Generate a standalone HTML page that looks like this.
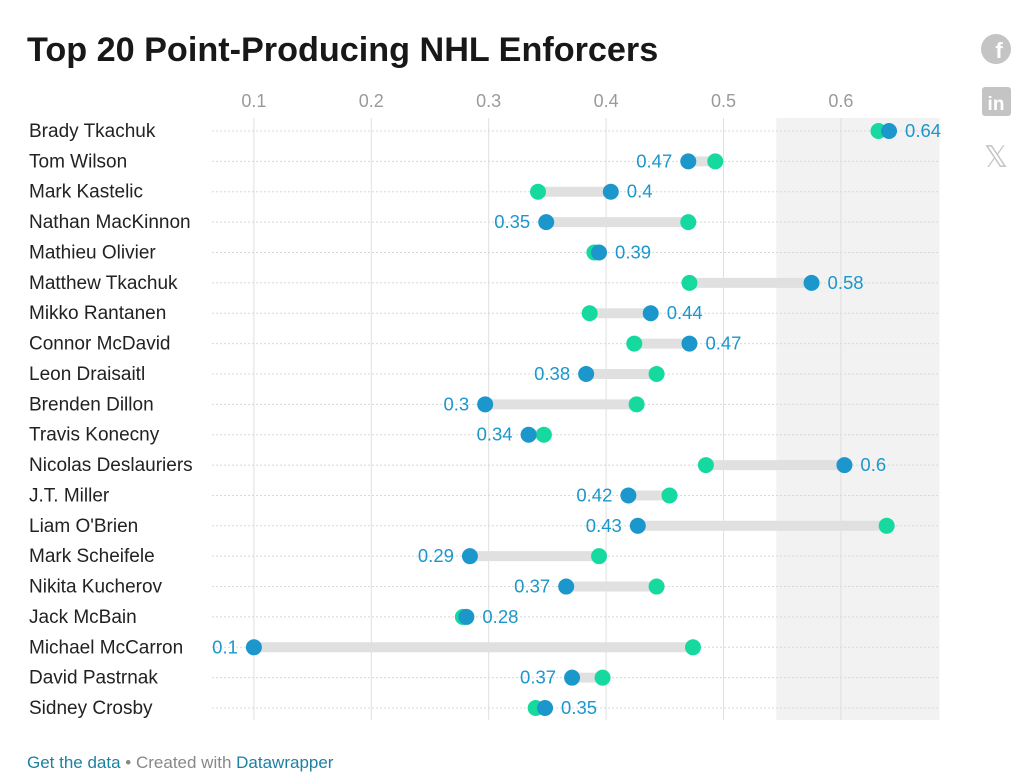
<!DOCTYPE html>
<html><head><meta charset="utf-8"><style>
body{margin:0;background:#fff;font-family:"Liberation Sans",sans-serif;}
#wrap{position:relative;width:1028px;height:782px;overflow:hidden;}
h1{position:absolute;left:27px;top:31px;margin:0;font-size:34.2px;font-weight:bold;color:#181818;letter-spacing:0px}
.foot{position:absolute;left:27px;top:753px;font-size:17px;color:#888}
.foot a{color:#1d81a2;text-decoration:none}
</style></head><body><div id="wrap">
<h1>Top 20 Point-Producing NHL Enforcers</h1>
<svg id="chart" width="1028" height="782" style="position:absolute;left:0;top:0">
<g><circle cx="996" cy="49" r="15" fill="#c4c4c4"/><text x="999" y="58" font-size="22" font-weight="bold" fill="#fff" text-anchor="middle">f</text></g>
<g><rect x="982" y="87" width="29" height="29" rx="3" fill="#c4c4c4"/><text x="996" y="110" font-size="19" font-weight="bold" fill="#fff" text-anchor="middle">in</text></g>
<text x="996" y="167" font-size="30" fill="#c4c4c4" text-anchor="middle">𝕏</text>
</svg>
<div class="foot"><a href="#">Get the data</a> • Created with <a href="#">Datawrapper</a></div>
</div>
<script>
const names=["Brady Tkachuk","Tom Wilson","Mark Kastelic","Nathan MacKinnon","Mathieu Olivier","Matthew Tkachuk","Mikko Rantanen","Connor McDavid","Leon Draisaitl","Brenden Dillon","Travis Konecny","Nicolas Deslauriers","J.T. Miller","Liam O'Brien","Mark Scheifele","Nikita Kucherov","Jack McBain","Michael McCarron","David Pastrnak","Sidney Crosby"];
const blueValues=[0.641,0.470,0.404,0.349,0.394,0.575,0.438,0.471,0.383,0.297,0.334,0.603,0.419,0.427,0.284,0.366,0.281,0.100,0.371,0.348];
const greenValues=[0.632,0.493,0.342,0.470,0.390,0.471,0.386,0.424,0.443,0.426,0.347,0.485,0.454,0.639,0.394,0.443,0.278,0.474,0.397,0.340];
const blueLabels=["0.64","0.47","0.4","0.35","0.39","0.58","0.44","0.47","0.38","0.3","0.34","0.6","0.42","0.43","0.29","0.37","0.28","0.1","0.37","0.35"];
const ticks=[0.1,0.2,0.3,0.4,0.5,0.6];
const shadeRange=[0.545,0.684];
const NS="http://www.w3.org/2000/svg";
const svg=document.getElementById('chart');
const x=v=>136.5+v*1174;
const y=i=>131+i*30.37;
function mk(t,a,p){const e=document.createElementNS(NS,t);for(const k in a)e.setAttribute(k,a[k]);(p||svg).appendChild(e);return e;}
const sh=mk('rect',{x:x(shadeRange[0]),y:118,width:x(shadeRange[1])-x(shadeRange[0]),height:602,fill:'#f2f2f2'});


ticks.forEach(t=>{
 const l=mk('line',{x1:x(t),x2:x(t),y1:118,y2:720,stroke:'#e0e0e0','stroke-width':1});
 
 
 const tx=mk('text',{x:x(t),y:107,'font-size':18,fill:'#9a9a9a','text-anchor':'middle'});
 tx.textContent=String(t);
 
 
});
names.forEach((n,i)=>{
 const yy=y(i);
 const rl=mk('line',{x1:212,x2:938,y1:yy,y2:yy,stroke:'#d8d8d8','stroke-dasharray':'2,2'});
 
 
 const lb=mk('text',{x:29,y:yy+6,'font-size':19,fill:'#222'});
 lb.textContent=n;
 
 
 const b=blueValues[i],g=greenValues[i];
 const bar=mk('line',{x1:x(Math.min(b,g)),x2:x(Math.max(b,g)),y1:yy,y2:yy,stroke:'#e0e0e0','stroke-width':10});
 
 
 const gc=mk('circle',{cx:x(g),cy:yy,r:8,fill:'#16d9a0'});
 
 
 const bc=mk('circle',{cx:x(b),cy:yy,r:8,fill:'#1b97cc'});
 
 
 const right=b>=g;
 const vt=mk('text',{x:right?x(Math.max(b,g))+16:x(Math.min(b,g))-16,y:yy+6,'font-size':18.5,fill:'#1b97cc','text-anchor':right?'start':'end'});
 vt.textContent=blueLabels[i];
 
 
});
</script></body></html>
